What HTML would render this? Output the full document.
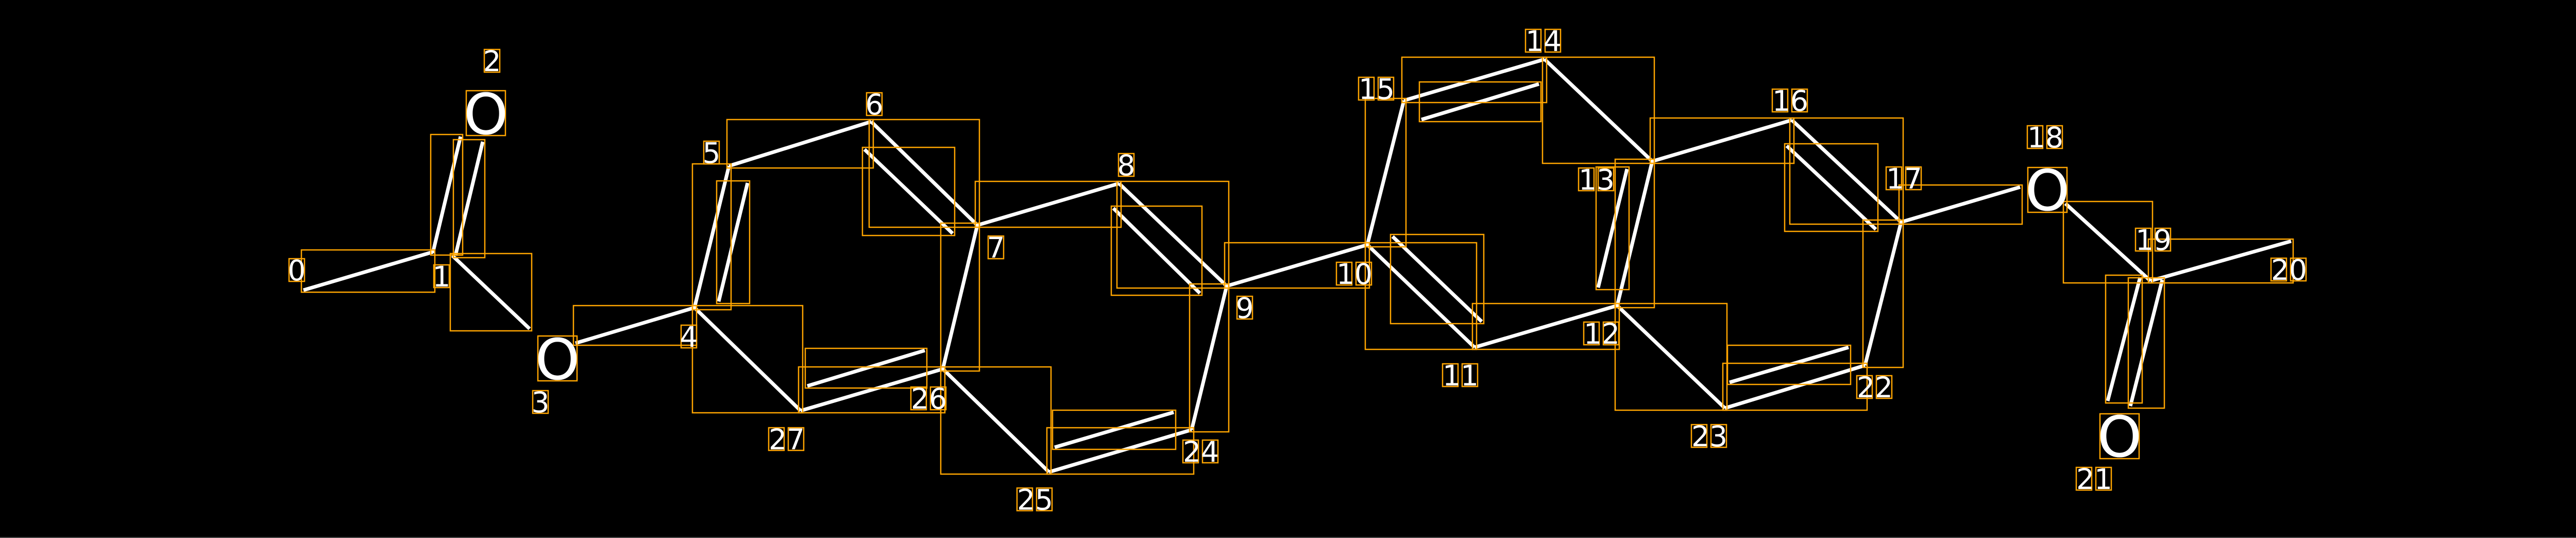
<!DOCTYPE html>
<html><head><meta charset="utf-8"><style>
html,body{margin:0;padding:0;background:#000;}
svg{display:block;}
text{font-family:"DejaVu Sans","Liberation Sans",sans-serif;fill:#fff;text-anchor:middle;}
</style></head><body>
<svg width="5041" height="1044" viewBox="0 0 5041 1044" xmlns="http://www.w3.org/2000/svg">
<rect x="0" y="0" width="5041" height="1044" fill="#000"/>
<line x1="0" y1="1043" x2="5041" y2="1043" stroke="#444" stroke-width="2"/>
<line x1="5040" y1="0" x2="5040" y2="1044" stroke="#444" stroke-width="2"/>
<g stroke="#fff" stroke-width="7" stroke-linecap="butt">
<line x1="589" y1="563" x2="840" y2="489"/>
<line x1="840" y1="491" x2="894" y2="265"/>
<line x1="884" y1="496" x2="937" y2="275"/>
<line x1="878" y1="496" x2="1028" y2="638"/>
<line x1="1117" y1="666" x2="1348" y2="597"/>
<line x1="1348" y1="597" x2="1415" y2="322"/>
<line x1="1395" y1="585" x2="1451" y2="355"/>
<line x1="1415" y1="322" x2="1691" y2="236"/>
<line x1="1691" y1="236" x2="1897" y2="437"/>
<line x1="1678" y1="290" x2="1849" y2="453"/>
<line x1="1897" y1="437" x2="2172" y2="356"/>
<line x1="2172" y1="356" x2="2381" y2="555"/>
<line x1="2161" y1="404" x2="2329" y2="569"/>
<line x1="2381" y1="555" x2="2654" y2="475"/>
<line x1="2381" y1="555" x2="2313" y2="834"/>
<line x1="2313" y1="834" x2="2036" y2="916"/>
<line x1="2047" y1="868" x2="2278" y2="800"/>
<line x1="2036" y1="916" x2="1830" y2="716"/>
<line x1="1830" y1="716" x2="1897" y2="437"/>
<line x1="1830" y1="716" x2="1554" y2="797"/>
<line x1="1567" y1="749" x2="1795" y2="680"/>
<line x1="1554" y1="797" x2="1348" y2="597"/>
<line x1="2654" y1="475" x2="2725" y2="195"/>
<line x1="2725" y1="195" x2="2998" y2="115"/>
<line x1="2759" y1="232" x2="2987" y2="163"/>
<line x1="2998" y1="115" x2="3207" y2="313"/>
<line x1="3207" y1="313" x2="3139" y2="593"/>
<line x1="3158" y1="328" x2="3102" y2="558"/>
<line x1="3139" y1="593" x2="2862" y2="674"/>
<line x1="2862" y1="674" x2="2654" y2="475"/>
<line x1="2703" y1="459" x2="2876" y2="624"/>
<line x1="3139" y1="593" x2="3348" y2="792"/>
<line x1="3207" y1="313" x2="3478" y2="233"/>
<line x1="3478" y1="233" x2="3690" y2="431"/>
<line x1="3468" y1="283" x2="3641" y2="445"/>
<line x1="3690" y1="431" x2="3921" y2="363"/>
<line x1="3690" y1="431" x2="3620" y2="709"/>
<line x1="3620" y1="709" x2="3348" y2="792"/>
<line x1="3588" y1="674" x2="3357" y2="742"/>
<line x1="4009" y1="395" x2="4174" y2="545"/>
<line x1="4174" y1="545" x2="4447" y2="468"/>
<line x1="4154" y1="538" x2="4091" y2="778"/>
<line x1="4197" y1="543" x2="4135" y2="788"/>
</g>
<g fill="none" stroke="#ffa500" stroke-width="2.5">
<rect x="585" y="485" width="259" height="82"/>
<rect x="836" y="261" width="62" height="234"/>
<rect x="880" y="271" width="61" height="229"/>
<rect x="874" y="492" width="158" height="150"/>
<rect x="1113" y="593" width="239" height="77"/>
<rect x="1344" y="318" width="75" height="283"/>
<rect x="1391" y="351" width="64" height="238"/>
<rect x="1411" y="232" width="284" height="94"/>
<rect x="1687" y="232" width="214" height="209"/>
<rect x="1674" y="286" width="179" height="171"/>
<rect x="1893" y="352" width="283" height="89"/>
<rect x="2168" y="352" width="217" height="207"/>
<rect x="2157" y="400" width="176" height="173"/>
<rect x="2377" y="471" width="281" height="88"/>
<rect x="2309" y="551" width="76" height="287"/>
<rect x="2032" y="830" width="285" height="90"/>
<rect x="2043" y="796" width="239" height="76"/>
<rect x="1826" y="712" width="214" height="208"/>
<rect x="1826" y="433" width="75" height="287"/>
<rect x="1550" y="712" width="284" height="89"/>
<rect x="1563" y="676" width="236" height="77"/>
<rect x="1344" y="593" width="214" height="208"/>
<rect x="2650" y="191" width="79" height="288"/>
<rect x="2721" y="111" width="281" height="88"/>
<rect x="2755" y="159" width="236" height="77"/>
<rect x="2994" y="111" width="217" height="206"/>
<rect x="3135" y="309" width="76" height="288"/>
<rect x="3098" y="324" width="64" height="238"/>
<rect x="2858" y="589" width="285" height="89"/>
<rect x="2650" y="471" width="216" height="207"/>
<rect x="2699" y="455" width="181" height="173"/>
<rect x="3135" y="589" width="217" height="207"/>
<rect x="3203" y="229" width="279" height="88"/>
<rect x="3474" y="229" width="220" height="206"/>
<rect x="3464" y="279" width="181" height="170"/>
<rect x="3686" y="359" width="239" height="76"/>
<rect x="3616" y="427" width="78" height="286"/>
<rect x="3344" y="705" width="280" height="91"/>
<rect x="3353" y="670" width="239" height="76"/>
<rect x="4005" y="391" width="173" height="158"/>
<rect x="4170" y="464" width="281" height="85"/>
<rect x="4087" y="534" width="71" height="248"/>
<rect x="4131" y="539" width="70" height="253"/>
<rect x="905" y="176" width="76" height="87"/>
<rect x="1044" y="652" width="76" height="87"/>
<rect x="3936" y="325" width="76" height="87"/>
<rect x="4076" y="803" width="76" height="87"/>
<rect x="561" y="502" width="30" height="44"/>
<rect x="842" y="514" width="30" height="44"/>
<rect x="940" y="96" width="30" height="44"/>
<rect x="1034" y="758" width="30" height="44"/>
<rect x="1322" y="631" width="30" height="44"/>
<rect x="1366" y="274" width="30" height="44"/>
<rect x="1682" y="180" width="30" height="44"/>
<rect x="1918" y="458" width="30" height="44"/>
<rect x="2171" y="298" width="30" height="44"/>
<rect x="2401" y="575" width="30" height="44"/>
<rect x="1492" y="830" width="30" height="44"/><rect x="1530" y="830" width="30" height="44"/>
<rect x="1768" y="751" width="30" height="44"/><rect x="1806" y="751" width="30" height="44"/>
<rect x="2594" y="509" width="30" height="44"/><rect x="2632" y="509" width="30" height="44"/>
<rect x="2296" y="854" width="30" height="44"/><rect x="2334" y="854" width="30" height="44"/>
<rect x="1974" y="947" width="30" height="44"/><rect x="2012" y="947" width="30" height="44"/>
<rect x="2637" y="150" width="30" height="44"/><rect x="2675" y="150" width="30" height="44"/>
<rect x="2961" y="57" width="30" height="44"/><rect x="2999" y="57" width="30" height="44"/>
<rect x="3064" y="326" width="30" height="44"/><rect x="3102" y="326" width="30" height="44"/>
<rect x="3074" y="625" width="30" height="44"/><rect x="3112" y="625" width="30" height="44"/>
<rect x="2800" y="706" width="30" height="44"/><rect x="2838" y="706" width="30" height="44"/>
<rect x="3283" y="824" width="30" height="44"/><rect x="3321" y="824" width="30" height="44"/>
<rect x="3440" y="173" width="30" height="44"/><rect x="3478" y="173" width="30" height="44"/>
<rect x="3661" y="324" width="30" height="44"/><rect x="3699" y="324" width="30" height="44"/>
<rect x="3935" y="244" width="30" height="44"/><rect x="3973" y="244" width="30" height="44"/>
<rect x="3604" y="729" width="30" height="44"/><rect x="3642" y="729" width="30" height="44"/>
<rect x="4145" y="443" width="30" height="44"/><rect x="4183" y="443" width="30" height="44"/>
<rect x="4408" y="501" width="30" height="44"/><rect x="4446" y="501" width="30" height="44"/>
<rect x="4030" y="907" width="30" height="44"/><rect x="4068" y="907" width="30" height="44"/>
</g>
<g font-size="110">
<text x="943" y="260">O</text>
<text x="1082" y="736">O</text>
<text x="3974" y="408">O</text>
<text x="4114" y="886">O</text>
</g>
<g font-size="55">
<text x="576" y="544">0</text>
<text x="857" y="556">1</text>
<text x="955" y="138">2</text>
<text x="1049" y="800">3</text>
<text x="1337" y="673">4</text>
<text x="1381" y="316">5</text>
<text x="1697" y="222">6</text>
<text x="1933" y="500">7</text>
<text x="2186" y="340">8</text>
<text x="2416" y="617">9</text>
<text x="2629" y="551">10</text>
<text x="2835" y="748">11</text>
<text x="3109" y="667">12</text>
<text x="3099" y="368">13</text>
<text x="2996" y="99">14</text>
<text x="2672" y="192">15</text>
<text x="3475" y="215">16</text>
<text x="3696" y="366">17</text>
<text x="3970" y="286">18</text>
<text x="4180" y="485">19</text>
<text x="4443" y="543">20</text>
<text x="4065" y="949">21</text>
<text x="3639" y="771">22</text>
<text x="3318" y="866">23</text>
<text x="2331" y="896">24</text>
<text x="2009" y="989">25</text>
<text x="1803" y="793">26</text>
<text x="1527" y="872">27</text>
</g>
</svg>
</body></html>
